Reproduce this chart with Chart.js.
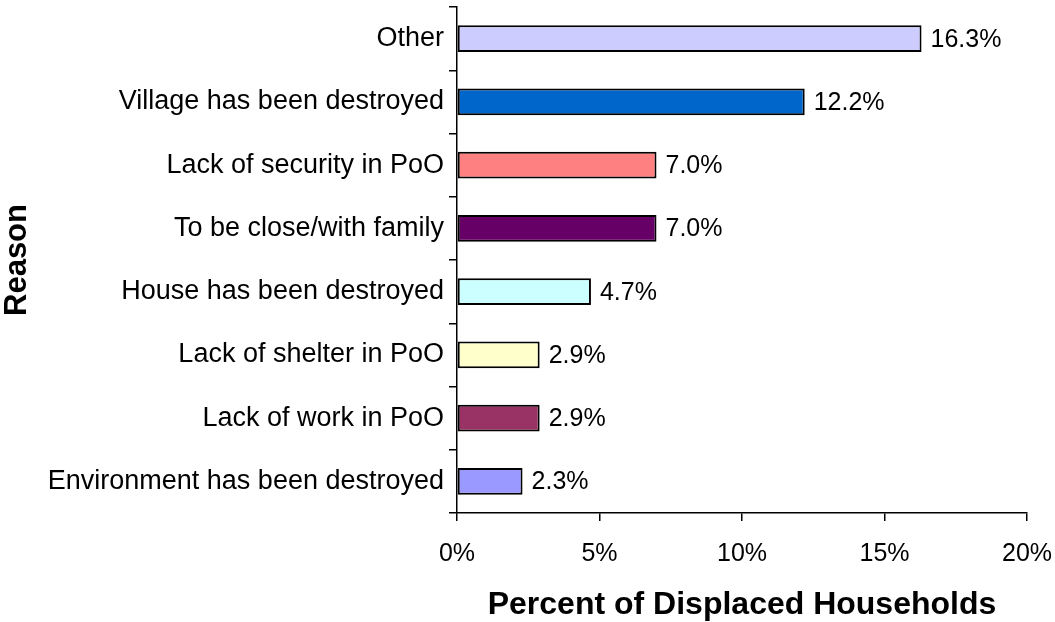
<!DOCTYPE html>
<html>
<head>
<meta charset="utf-8">
<script src="https://cdn.jsdelivr.net/npm/chart.js@4/dist/chart.umd.min.js"></script>
<style>
    body { margin: 0; background: #fff; }
    #wrap { width: 1055px; height: 622px; position: relative; }
</style>
</head>
<body>
<div id="wrap"><canvas id="reasonChart"></canvas></div>
<script>
        // categories, top to bottom
        const reasons = [
            "Other",
            "Village has been destroyed",
            "Lack of security in PoO",
            "To be close/with family",
            "House has been destroyed",
            "Lack of shelter in PoO",
            "Lack of work in PoO",
            "Environment has been destroyed"
        ];
        const percents = [16.3, 12.2, 7.0, 7.0, 4.7, 2.9, 2.9, 2.3];
        const barColors = ["#CCCCFF", "#0066CC", "#FF8080", "#660066", "#CCFFFF", "#FFFFCC", "#993366", "#9999FF"];
        const xTicks = [0, 5, 10, 15, 20];

        const FONT = "'Liberation Sans', Arial, sans-serif";

        // value labels at the end of each bar
        const valueLabels = {
            id: 'valueLabels',
            afterDatasetsDraw(chart) {
                const ctx = chart.ctx;
                const meta = chart.getDatasetMeta(0);
                ctx.save();
                ctx.font = "25px " + FONT;
                ctx.fillStyle = "#000";
                ctx.textAlign = "left";
                ctx.textBaseline = "middle";
                meta.data.forEach((bar, i) => {
                    ctx.fillText(percents[i].toFixed(1) + "%", bar.x + 9, bar.y + 1);
                });
                ctx.restore();
            }
        };

        const ctx = document.getElementById('reasonChart').getContext('2d');
        new Chart(ctx, {
            type: 'bar',
            data: {
                labels: reasons,
                datasets: [{
                    data: percents,
                    backgroundColor: barColors,
                    borderColor: "#000",
                    borderWidth: 2,
                    borderSkipped: false,
                    categoryPercentage: 1.0,
                    barPercentage: 0.42
                }]
            },
            options: {
                indexAxis: 'y',
                responsive: true,
                maintainAspectRatio: false,
                animation: false,
                layout: { padding: { top: 7, right: 28, bottom: 0, left: 0 } },
                plugins: {
                    legend: { display: false },
                    tooltip: { enabled: false }
                },
                scales: {
                    x: {
                        min: 0,
                        max: 20,
                        afterBuildTicks: (scale) => { scale.ticks = xTicks.map(v => ({ value: v })); },
                        afterFit: (scale) => {
                            scale.height = 109;
                            scale.paddingLeft = 0;
                            scale.paddingRight = 0;
                        },
                        grid: { drawOnChartArea: false, tickLength: 8, color: "#000", lineWidth: 1.5 },
                        border: { color: "#000", width: 1.5 },
                        ticks: {
                            color: "#000",
                            padding: 18,
                            font: { family: FONT, size: 25 },
                            callback: (v) => v + "%"
                        },
                        title: {
                            display: true,
                            text: "Percent of Displaced Households",
                            color: "#000",
                            padding: { top: 0, bottom: 0 },
                            font: { family: FONT, size: 32, weight: 'bold', lineHeight: 1.05 }
                        }
                    },
                    y: {
                        afterFit: (scale) => {
                            scale.width = 457;
                            scale.paddingTop = 0;
                            scale.paddingBottom = 0;
                        },
                        grid: { drawOnChartArea: false, offset: true, tickLength: 8, color: "#000", lineWidth: 1.5 },
                        border: { color: "#000", width: 1.5 },
                        ticks: {
                            color: "#000",
                            padding: 5,
                            font: { family: FONT, size: 27 }
                        },
                        title: {
                            display: true,
                            text: "Reason",
                            color: "#000",
                            padding: { top: 0, bottom: 0 },
                            font: { family: FONT, size: 31, weight: 'bold', lineHeight: 1.15 }
                        }
                    }
                }
            },
            plugins: [valueLabels]
        });
</script>
</body>
</html>
